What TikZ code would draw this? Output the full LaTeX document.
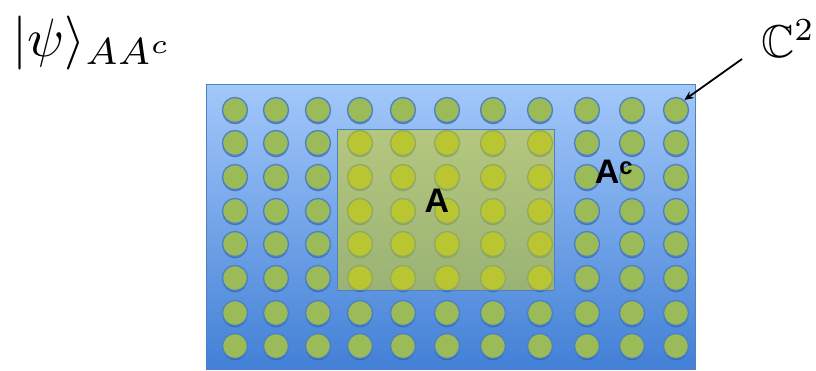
\documentclass[tikz,border=0pt]{standalone}
\usepackage{amssymb}
\usepackage{fontspec}
\newfontfamily\labfont{Liberation Sans}
\usetikzlibrary{arrows.meta,shadows}
\definecolor{bgtop}{RGB}{163,200,250}
\definecolor{bgbot}{RGB}{66,128,214}
\definecolor{edgeblue}{RGB}{79,129,189}
\definecolor{dotgreen}{RGB}{155,187,89}
\definecolor{shadowblue}{RGB}{40,90,170}
\definecolor{overlay}{RGB}{215,210,10}
\tikzset{
  site/.style={circle, minimum size=25pt, inner sep=0pt, fill=dotgreen,
    draw=edgeblue, line width=1.3pt,
    drop shadow={shadow xshift=0pt, shadow yshift=-1.8pt, fill=shadowblue, opacity=0.65}},
  region/.style={font=\labfont\bfseries\fontsize{34}{36}\selectfont, inner sep=0pt},
}
\begin{document}
\begin{tikzpicture}[x=1pt,y=-1pt]
\useasboundingbox (0,0) rectangle (816,370);
% lattice background
\node[draw=edgeblue, line width=0.8pt, top color=bgtop, bottom color=bgbot,
  minimum width=489pt, minimum height=285pt, inner sep=0pt, anchor=north west] (lattice) at (206,84) {};
% sites
\foreach \y [count=\r] in {110,143,177,211,244,278,313,346}{
  \foreach \x [count=\c] in {235,276,318,360,403,447,493,540,587,632,676}{
    \node[site] (s-\r-\c) at (\x,\y) {};
  }
}
% subsystem A
\node[draw=edgeblue, line width=0.8pt, fill=overlay, fill opacity=0.5,
  minimum width=217pt, minimum height=161pt, inner sep=0pt, anchor=north west] (regA) at (337,129) {};
\node[region] (labA) at (437,201) {A};
\node[region] (labAc) at (614,172) {A\textsuperscript{c}};
% state label
\node[anchor=base west, inner sep=0pt] (ket) at (12,56) {\scalebox{5.4}{$|\psi\rangle_{AA^c}$}};
% local Hilbert space
\node[anchor=base west, inner sep=0pt] (hil) at (761,57) {\scalebox{4.6}{$\mathbb{C}^2$}};
\coordinate (astart) at (742,59);
\draw[line width=1.8pt, -{Stealth[length=9pt,width=8pt]}] (astart) -- (s-1-11.50);
\end{tikzpicture}
\end{document}
